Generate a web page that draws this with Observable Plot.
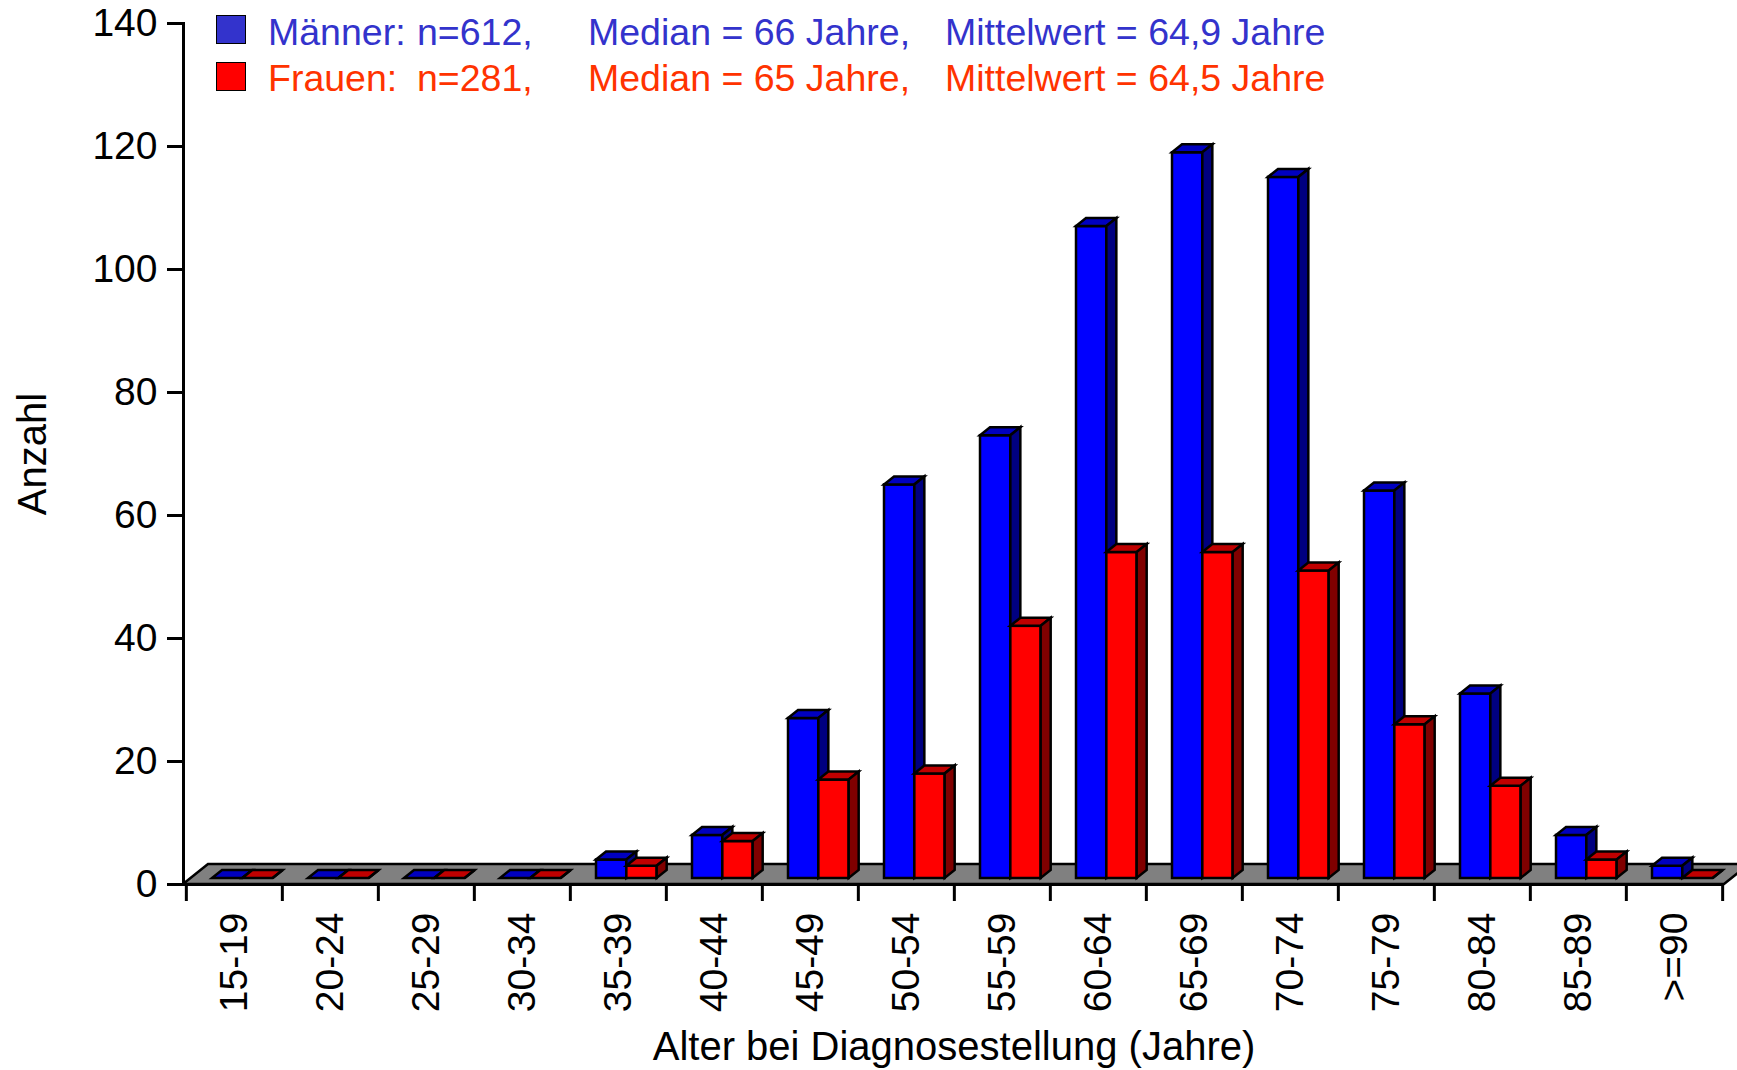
<!DOCTYPE html>
<html><head><meta charset="utf-8">
<script src="https://cdn.jsdelivr.net/npm/d3@7"></script>
<script src="https://cdn.jsdelivr.net/npm/@observablehq/plot@0.6"></script>
<style>
body{margin:0;background:#fff;}
#wrap{position:relative;width:1737px;height:1070px;font-family:"Liberation Sans",Arial,sans-serif;background:#fff;overflow:hidden;}
.lg{position:absolute;font-size:37.5px;white-space:nowrap;line-height:1;}
.sw{position:absolute;width:28px;height:27px;border:1.5px solid #000;}
</style></head><body><div id="wrap"></div>
<script>
// ---- data ----
const categories = ["15-19","20-24","25-29","30-34","35-39","40-44","45-49","50-54","55-59","60-64","65-69","70-74","75-79","80-84","85-89",">=90"];
const maenner = [0,0,0,0,3,7,26,64,72,106,118,114,63,30,7,2];
const frauen  = [0,0,0,0,2,6,16,17,41,53,53,50,25,15,3,0];
const yTicks = [0,20,40,60,80,100,120,140];
const legendLabels = ["Männer:", "Frauen:"];
const legendN = ["n=612,", "n=281,"];
const legendMedian = ["Median = 66 Jahre,", "Median = 65 Jahre,"];
const legendMean = ["Mittelwert = 64,9 Jahre", "Mittelwert = 64,5 Jahre"];
const xTitle = "Alter bei Diagnosestellung (Jahre)";
const yTitle = "Anzahl";

// ---- layout / style ----
const W = 1737, H = 1070, mL = 183, mR = 13, mT = 23, mB = 186;
const DX = 10, DY = 8, LIFT = 6, FLOOR_DX = 25, FLOOR_DY = 20;
const bandW = (W - mL - mR) / categories.length;
const blue = {front: "#0000FF", top: "#0000C0", side: "#000080"};
const red  = {front: "#FF0000", top: "#C00000", side: "#800000"};

const data = categories.map((c, i) => ({cat: c, m: maenner[i], f: frauen[i]}));

function bar3d(f0, f1, col) {
  return (index, scales, values) => {
    const g = d3.create("svg:g").attr("stroke", "#000").attr("stroke-width", 2.5).attr("stroke-linejoin", "miter");
    const X = values.x, Y1 = values.y1, Y2 = values.y2;
    for (const i of index) {
      const xa = X[i] + f0 * bandW, xb = X[i] + f1 * bandW;
      const yb = Y1[i] - LIFT, yt = Y2[i] - LIFT;
      g.append("rect").attr("x", xa).attr("y", yt).attr("width", xb - xa).attr("height", Math.max(0, yb - yt)).attr("fill", col.front);
      g.append("polygon").attr("points", [[xa, yt], [xb, yt], [xb + DX, yt - DY], [xa + DX, yt - DY]].join(" ")).attr("fill", col.top);
      g.append("polygon").attr("points", [[xb, yb], [xb, yt], [xb + DX, yt - DY], [xb + DX, yb - DY]].join(" ")).attr("fill", col.side);
    }
    return g.node();
  };
}

function floor(index, scales) {
  const y0 = scales.y(0);
  const x0 = mL, x1 = W - mR;
  return d3.create("svg:polygon")
    .attr("points", [[x0, y0], [x1, y0], [x1 + FLOOR_DX, y0 - FLOOR_DY], [x0 + FLOOR_DX, y0 - FLOOR_DY]].join(" "))
    .attr("fill", "#808080").attr("stroke", "#000").attr("stroke-width", 2.5).node();
}

const chart = Plot.plot({
  width: W, height: H,
  marginLeft: mL, marginRight: mR, marginTop: mT, marginBottom: mB,
  style: {fontFamily: "Liberation Sans, Arial, sans-serif", fontSize: "39px", color: "#000", background: "transparent", overflow: "hidden"},
  x: {type: "band", domain: categories, padding: 0},
  y: {domain: [0, 140]},
  marks: [
    Plot.frame({stroke: "none", render: floor}),
    Plot.barY(data, {x: "cat", y1: 0, y2: "m", render: bar3d(0.27, 0.585, blue)}),
    Plot.barY(data, {x: "cat", y1: 0, y2: "f", render: bar3d(0.585, 0.90, red)}),
    Plot.ruleY([0], {strokeWidth: 3}),
    Plot.frame({anchor: "left", strokeWidth: 3}),
    Plot.ruleX(categories, {x: d => d, y1: 0, y2: 0, insetBottom: -17, dx: -bandW / 2, strokeWidth: 3}),
    Plot.ruleX(categories.slice(-1), {x: d => d, y1: 0, y2: 0, insetBottom: -17, dx: bandW / 2, strokeWidth: 3}),
    Plot.axisY({ticks: yTicks, tickSize: 16, tickPadding: 10, strokeWidth: 3, label: null, style: "letter-spacing:2px"}),
    Plot.axisX({tickRotate: -90, tickSize: 0, tickPadding: 28, label: null}),
    Plot.text([xTitle], {frameAnchor: "bottom", dy: 163, fontSize: 40, lineAnchor: "middle"}),
    Plot.text([yTitle], {frameAnchor: "left", rotate: -90, dx: -150, fontSize: 40, lineAnchor: "middle", textAnchor: "middle"})
  ]
});

const wrap = document.getElementById("wrap");
wrap.appendChild(chart);

// ---- legend (overlaid at the top of the plot area) ----
const rowTop = [14, 60];
const sqTop = [15, 62];
const sqCol = ["#3333CC", "#FF0000"];
const txtCol = ["#3333CC", "#FF3300"];
const colX = [268, 417, 588, 945];
[0, 1].forEach(r => {
  const sq = document.createElement("div");
  sq.className = "sw";
  sq.style.left = "216px"; sq.style.top = sqTop[r] + "px"; sq.style.background = sqCol[r];
  wrap.appendChild(sq);
  [legendLabels[r], legendN[r], legendMedian[r], legendMean[r]].forEach((t, k) => {
    const s = document.createElement("div");
    s.className = "lg";
    s.textContent = t;
    s.style.left = colX[k] + "px"; s.style.top = rowTop[r] + "px"; s.style.color = txtCol[r];
    wrap.appendChild(s);
  });
});
</script></body></html>
